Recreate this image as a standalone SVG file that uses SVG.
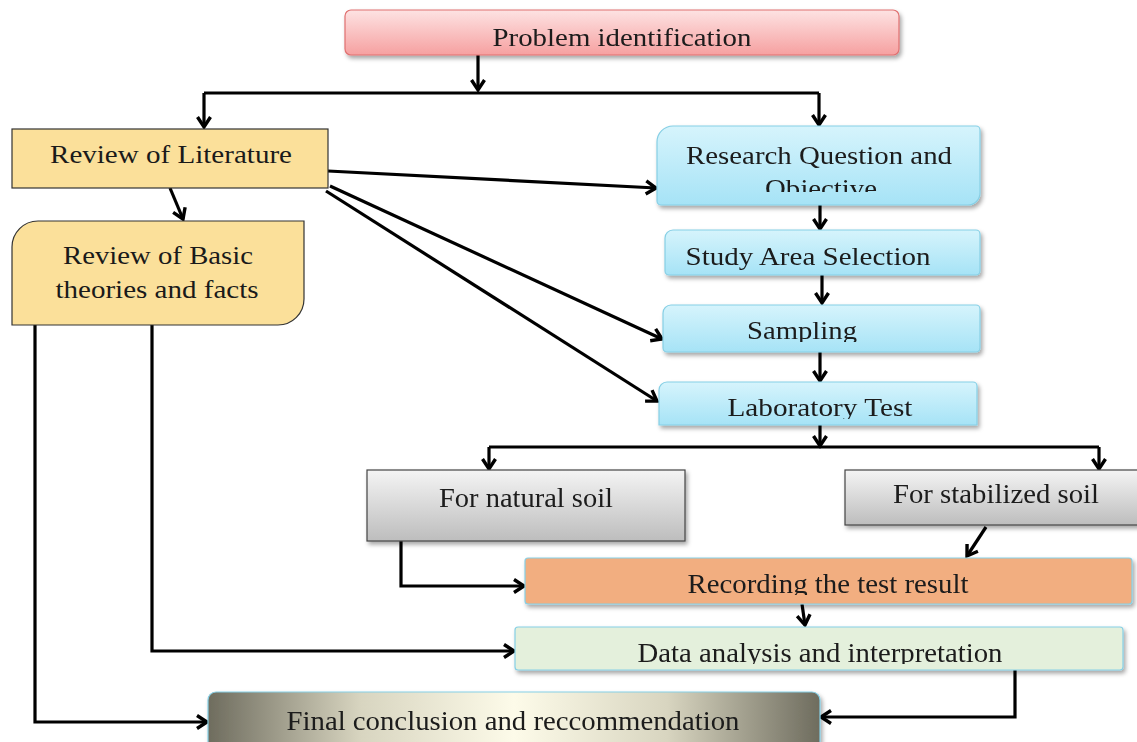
<svg xmlns="http://www.w3.org/2000/svg" width="1137" height="742" viewBox="0 0 1137 742">
<defs>
<style>
text{font-family:"Liberation Serif","Times New Roman",serif;font-size:26px;fill:#1a1a1a;text-anchor:middle}
text.t{font-size:28px}
.c{fill:none;stroke:#000;stroke-width:3.2;stroke-linejoin:miter}
.a{marker-end:url(#ah)}
</style>
<marker id="ah" markerUnits="userSpaceOnUse" markerWidth="18" markerHeight="18" refX="13" refY="9" orient="auto">
<path d="M3,2.5 L13,9 L3,15.5" fill="none" stroke="#000" stroke-width="3.4"/>
</marker>
<filter id="sh" x="-5%" y="-20%" width="115%" height="150%">
<feDropShadow dx="2" dy="3" stdDeviation="2" flood-color="#000" flood-opacity="0.35"/>
</filter>
<linearGradient id="gPink" x1="0" y1="0" x2="0" y2="1"><stop offset="0" stop-color="#fde3e3"/><stop offset="1" stop-color="#f6a0a0"/></linearGradient>
<linearGradient id="gBlue" x1="0" y1="0" x2="0" y2="1"><stop offset="0" stop-color="#d6f4fc"/><stop offset="1" stop-color="#a6e3f6"/></linearGradient>
<linearGradient id="gGray" x1="0" y1="0" x2="0" y2="1"><stop offset="0" stop-color="#f4f4f4"/><stop offset="1" stop-color="#bdbdbd"/></linearGradient>
<linearGradient id="gFinal" x1="0" y1="0" x2="1" y2="0"><stop offset="0" stop-color="#6e6c5e"/><stop offset="0.25" stop-color="#d8d5c0"/><stop offset="0.5" stop-color="#fdfbe9"/><stop offset="0.75" stop-color="#d8d5c0"/><stop offset="1" stop-color="#6e6c5e"/></linearGradient>
<clipPath id="cRQ"><rect x="657" y="126" width="323" height="66"/></clipPath>
<clipPath id="cSam"><rect x="663" y="305" width="317" height="37"/></clipPath>
<clipPath id="cLab"><rect x="659" y="382" width="318" height="37"/></clipPath>
<clipPath id="cRec"><rect x="525" y="558" width="607" height="37"/></clipPath>
<clipPath id="cDat"><rect x="515" y="627" width="608" height="37"/></clipPath>
</defs>
<rect width="1137" height="742" fill="#fff"/>

<g id="connectors">
<path class="c a" d="M478,55 L478,90"/>
<path class="c" d="M204,93 L819,93"/>
<path class="c a" d="M204,93 L204,127"/>
<path class="c a" d="M819,93 L819,125"/>
<path class="c a" d="M170,188 L183,219"/>
<path class="c a" d="M328,171 L656,188"/>
<path class="c a" d="M330,186 L662,339"/>
<path class="c a" d="M326,191 L657,401"/>
<path class="c a" d="M820,205 L820,229"/>
<path class="c a" d="M822,275 L822,303"/>
<path class="c a" d="M820,352 L820,381"/>
<path class="c a" d="M820,425 L820,446"/>
<path class="c" d="M489,447 L1099,447"/>
<path class="c a" d="M489,447 L489,469"/>
<path class="c a" d="M1099,447 L1099,469"/>
<path class="c a" d="M401,541 L401,586 L524,586"/>
<path class="c a" d="M986,527 L967,556"/>
<path class="c a" d="M802,604 L805,625"/>
<path class="c a" d="M152,324 L152,651 L514,651"/>
<path class="c a" d="M35,324 L35,722 L207,722"/>
<path class="c a" d="M1015,670 L1015,717 L821,717"/>
</g>

<g id="n-problem" filter="url(#sh)">
<rect x="345" y="10" width="554" height="45" rx="6" fill="url(#gPink)" stroke="#e07070" stroke-width="1.2"/>
<text x="622" y="46" textLength="259" lengthAdjust="spacingAndGlyphs">Problem identification</text>
</g>

<g id="n-literature">
<rect x="12" y="129" width="316" height="59" fill="#fbe09a" stroke="#333" stroke-width="1.2"/>
<text x="171" y="163" textLength="242" lengthAdjust="spacingAndGlyphs">Review of Literature</text>
</g>

<g id="n-basic">
<path d="M12,247 A26,26 0 0 1 38,221 L304,221 L304,299 A26,26 0 0 1 278,325 L12,325 Z" fill="#fbe09a" stroke="#333" stroke-width="1.2"/>
<text x="158" y="264" textLength="190" lengthAdjust="spacingAndGlyphs">Review of Basic</text>
<text x="157" y="298" textLength="203" lengthAdjust="spacingAndGlyphs">theories and facts</text>
</g>

<g id="n-research" filter="url(#sh)">
<path d="M657,142 A16,16 0 0 1 673,126 L976,126 A4,4 0 0 1 980,130 L980,193 A12,12 0 0 1 968,205 L661,205 A4,4 0 0 1 657,201 Z" fill="url(#gBlue)" stroke="#86cfe5" stroke-width="1.2"/>
<g clip-path="url(#cRQ)">
<text x="819" y="164" textLength="266" lengthAdjust="spacingAndGlyphs">Research Question and</text>
<text x="821" y="197" textLength="112" lengthAdjust="spacingAndGlyphs">Objective</text>
</g>
</g>

<g id="n-study" filter="url(#sh)">
<path d="M665,238 A8,8 0 0 1 673,230 L976,230 A4,4 0 0 1 980,234 L980,271 A4,4 0 0 1 976,275 L669,275 A4,4 0 0 1 665,271 Z" fill="url(#gBlue)" stroke="#86cfe5" stroke-width="1.2"/>
<text x="808" y="265" textLength="245" lengthAdjust="spacingAndGlyphs">Study Area Selection</text>
</g>

<g id="n-sampling" filter="url(#sh)">
<path d="M663,313 A8,8 0 0 1 671,305 L976,305 A4,4 0 0 1 980,309 L980,348 A4,4 0 0 1 976,352 L667,352 A4,4 0 0 1 663,348 Z" fill="url(#gBlue)" stroke="#86cfe5" stroke-width="1.2"/>
<text x="802" y="339" clip-path="url(#cSam)" textLength="110" lengthAdjust="spacingAndGlyphs">Sampling</text>
</g>

<g id="n-lab" filter="url(#sh)">
<path d="M659,390 A8,8 0 0 1 667,382 L973,382 A4,4 0 0 1 977,386 L977,425 L659,425 Z" fill="url(#gBlue)" stroke="#86cfe5" stroke-width="1.2"/>
<text x="820" y="416" clip-path="url(#cLab)" textLength="185" lengthAdjust="spacingAndGlyphs">Laboratory Test</text>
</g>

<g id="n-natural" filter="url(#sh)">
<rect x="367" y="470" width="318" height="71" fill="url(#gGray)" stroke="#444" stroke-width="1.2"/>
<text class="t" x="526" y="507" textLength="174" lengthAdjust="spacingAndGlyphs">For natural soil</text>
</g>

<g id="n-stabilized" filter="url(#sh)">
<rect x="845" y="470" width="300" height="55" fill="url(#gGray)" stroke="#444" stroke-width="1.2"/>
<text class="t" x="996" y="503" textLength="206" lengthAdjust="spacingAndGlyphs">For stabilized soil</text>
</g>

<g id="n-recording" filter="url(#sh)">
<rect x="525" y="558" width="607" height="46" rx="3" fill="#f2ae80" stroke="#86cfe5" stroke-width="1.2"/>
<text class="t" x="828" y="593" clip-path="url(#cRec)" textLength="281" lengthAdjust="spacingAndGlyphs">Recording the test result</text>
</g>

<g id="n-data" filter="url(#sh)">
<rect x="515" y="627" width="608" height="43" rx="3" fill="#e4f0dc" stroke="#86cfe5" stroke-width="1.2"/>
<text class="t" x="820" y="662" clip-path="url(#cDat)" textLength="365" lengthAdjust="spacingAndGlyphs">Data analysis and interpretation</text>
</g>

<g id="n-final" filter="url(#sh)">
<path d="M208,750 L208,700 A8,8 0 0 1 216,692 L812,692 A8,8 0 0 1 820,700 L820,750 Z" fill="url(#gFinal)" stroke="#86cfe5" stroke-width="1.2"/>
<text class="t" x="513" y="730" textLength="453" lengthAdjust="spacingAndGlyphs">Final conclusion and reccommendation</text>
</g>
</svg>
